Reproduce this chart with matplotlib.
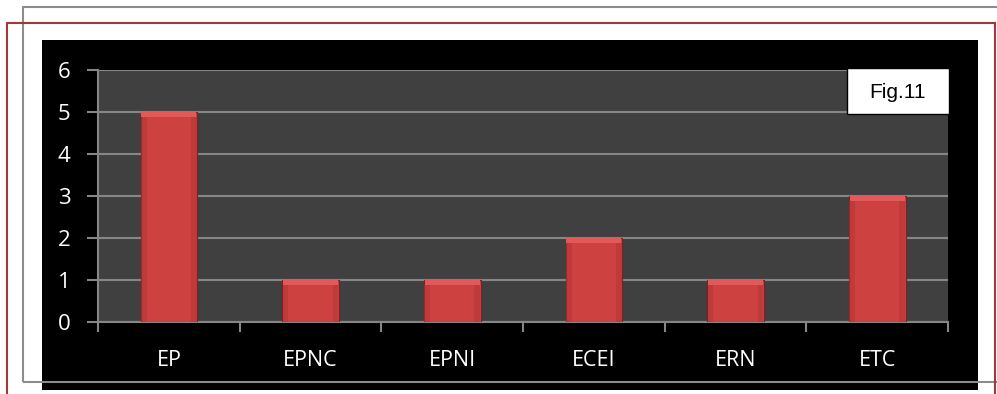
import numpy as np
import matplotlib.pyplot as plt
from matplotlib.patches import Rectangle

# data
categories = ['EP', 'EPNC', 'EPNI', 'ECEI', 'ERN', 'ETC']
values = [5, 1, 1, 2, 1, 3]
y_ticks = [0, 1, 2, 3, 4, 5, 6]
fig_label = 'Fig.11'

W, H = 997, 394
BAR_RED = '#cd4141'
BAR_LIGHT = '#e35858'
BAR_SIDE = '#b23434'
BAR_EDGE = '#7e2020'
PLOT_BG = '#404040'
GRID = '#868686'

fig = plt.figure(figsize=(W / 100, H / 100), dpi=100)
fig.patch.set_facecolor('white')


def fig_rect(x0, y0, x1, y1, **kw):
    # pixel box (top-left origin) -> figure coords
    return Rectangle((x0 / W, 1 - y1 / H), (x1 - x0) / W, (y1 - y0) / H,
                     transform=fig.transFigure, **kw)


# black chart area, then the two page frames
fig.patches.append(fig_rect(42, 40, 978, 390, facecolor='black', edgecolor='none', zorder=0))
fig.patches.append(fig_rect(23, 7, 1010, 382, facecolor='none', edgecolor='#8c8c8c', lw=1.5, zorder=5))
fig.patches.append(fig_rect(7, 23, 995, 410, facecolor='none', edgecolor='#a03a3a', lw=1.5, zorder=5))

ax = fig.add_axes([98 / W, 1 - 322 / H, (948 - 98) / W, (322 - 70) / H])
ax.set_facecolor(PLOT_BG)
ax.set_zorder(2)

x = np.arange(len(categories))
vals = np.array(values, dtype=float)
bw = 0.4
ax.bar(x, vals, width=bw, color=BAR_RED, edgecolor=BAR_EDGE, linewidth=0.8, zorder=3)
# bevel: lighter top strip, slightly darker sides
ax.bar(x, np.full_like(vals, 0.12), bottom=vals - 0.12, width=bw * 0.97,
       color=BAR_LIGHT, edgecolor='none', zorder=4)
for side in (-1, 1):
    ax.bar(x + side * bw * 0.44, vals - 0.12, width=bw * 0.1, color=BAR_SIDE,
           edgecolor='none', alpha=0.5, zorder=4)

ax.set_xlim(-0.5, len(categories) - 0.5)
ax.set_ylim(0, 6)
ax.set_yticks(y_ticks)
ax.grid(axis='y', color=GRID, linewidth=1.5, zorder=1)
ax.set_axisbelow(True)

ax.set_xticks(x)
ax.set_xticklabels(categories)
ax.set_xticks(np.arange(-0.5, len(categories)), minor=True)
ax.tick_params(axis='x', which='major', length=0, pad=20, colors='white', labelsize=15.5)
ax.tick_params(axis='x', which='minor', length=7, width=1.5, color=GRID)
ax.tick_params(axis='y', length=8, width=1.5, color=GRID, labelcolor='white', labelsize=16, pad=12)
for lab in ax.get_xticklabels() + ax.get_yticklabels():
    lab.set_fontfamily('Open Sans')
    lab.set_color('white')

for s in ['top', 'right']:
    ax.spines[s].set_visible(False)
for s in ['left', 'bottom']:
    ax.spines[s].set_color(GRID)
    ax.spines[s].set_linewidth(1.5)

# Fig.11 label box
ax.add_patch(Rectangle((0.881, 0.825), 0.12, 0.183, transform=ax.transAxes,
                       facecolor='white', edgecolor='black', lw=1, zorder=6, clip_on=False))
ax.text(0.94, 0.909, fig_label, transform=ax.transAxes, ha='center', va='center',
        fontsize=15, family='Liberation Sans', color='black', zorder=7)

fig.savefig('out.png', dpi=100)
